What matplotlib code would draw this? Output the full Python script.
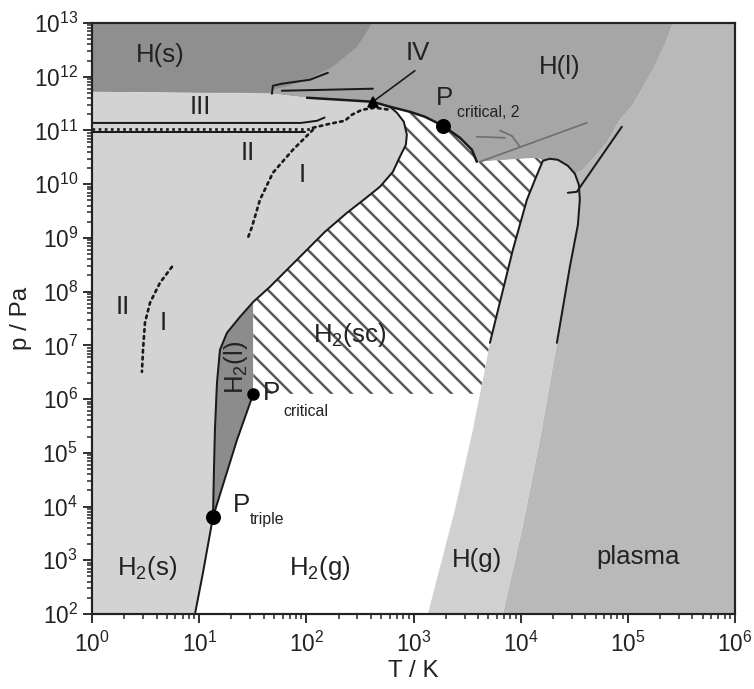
import numpy as np
import matplotlib
matplotlib.use('Agg')
import matplotlib.pyplot as plt
from matplotlib.patches import Polygon
from matplotlib.ticker import LogLocator, NullFormatter, FixedLocator
from matplotlib.collections import LineCollection

plt.rcParams['font.family'] = ['Liberation Sans', 'DejaVu Sans']
plt.rcParams['mathtext.fontset'] = 'custom'
plt.rcParams['mathtext.rm'] = 'Liberation Sans'
plt.rcParams['mathtext.it'] = 'Liberation Sans:italic'
plt.rcParams['mathtext.bf'] = 'Liberation Sans:bold'

# ---- axis decades ----
x_decades = [0, 1, 2, 3, 4, 5, 6]
y_decades = [2, 3, 4, 5, 6, 7, 8, 9, 10, 11, 12, 13]

# ---- phase boundaries (log10 T [K], log10 p [Pa]) ----
sub_logT = [0.961, 1.035, 1.129]
sub_logp = [2.0, 2.763, 3.806]

melt_logT = [1.129, 1.138, 1.147, 1.166, 1.194, 1.259, 1.381, 1.505, 1.660, 1.847, 1.987,
             2.174, 2.379, 2.547, 2.687, 2.808, 2.873, 2.929, 2.938, 2.910, 2.845, 2.780]
melt_logp = [3.806, 4.682, 5.426, 6.302, 6.916, 7.233, 7.531, 7.810, 8.089, 8.462, 8.741,
             9.114, 9.467, 9.728, 9.952, 10.231, 10.510, 10.734, 10.920, 11.162, 11.330, 11.441]

vap_logT = [1.129, 1.353, 1.505]
vap_logp = [3.806, 5.240, 6.097]

iv_logT = [2.006, 2.313, 2.621, 2.780, 2.966, 3.106, 3.274, 3.433, 3.545, 3.591]
iv_logp = [11.609, 11.572, 11.534, 11.441, 11.348, 11.255, 11.088, 10.864, 10.641, 10.417]

hs_logT = [0.0, 2.612, 2.593, 2.472, 2.248, 2.006, 1.800, 1.688, 1.679, 0.0]
hs_logp = [13.0, 13.0, 12.931, 12.559, 12.186, 11.944, 11.814, 11.758, 11.702, 11.721]

tongue_logT = [3.134, 3.386, 3.554, 3.713, 3.927, 4.058, 4.133, 4.207, 4.272, 4.347, 4.440,
               4.506, 4.543, 4.552, 4.534, 4.459, 4.338, 4.179, 4.011, 3.834]
tongue_logp = [2.0, 3.937, 5.426, 7.047, 8.778, 9.709, 10.082, 10.436, 10.473, 10.454, 10.343,
               10.194, 9.989, 9.709, 9.244, 8.462, 7.047, 5.240, 3.564, 2.0]

arc_logT = [4.580, 4.804, 4.925, 5.047, 5.233, 5.345, 5.420]
arc_logp = [10.268, 10.771, 11.199, 11.479, 12.130, 12.596, 13.0]

bracket_logT = [1.679, 1.688, 1.772, 2.034, 2.201]
bracket_logp = [11.683, 11.832, 11.870, 11.944, 12.074]
hline_logT = [1.772, 2.621]
hline_logp = [11.739, 11.777]

iii_top_logT = [0.0, 1.95, 2.10, 2.17]
iii_top_logp = [11.14, 11.14, 11.18, 11.24]
iii_bot_logT = [0.0, 1.987]
iii_bot_logp = [10.976, 10.976]
iii_dot_logT = [0.0, 2.06]
iii_dot_logp = [11.03, 11.03]

dotA_logT = [2.062, 2.220, 2.360, 2.425, 2.519, 2.640, 2.780]
dotA_logp = [11.050, 11.125, 11.181, 11.292, 11.385, 11.423, 11.385]
dotB_logT = [2.062, 1.875, 1.688, 1.567, 1.493, 1.455]
dotB_logp = [11.013, 10.641, 10.212, 9.709, 9.207, 9.002]
dotC_logT = [0.746, 0.634, 0.541, 0.494, 0.476, 0.466]
dotC_logp = [8.462, 8.164, 7.791, 7.419, 6.916, 6.507]

diag_logT = [4.440, 4.524, 4.944]
diag_logp = [9.840, 9.858, 11.069]
gray_logT = [3.619, 4.618]
gray_logp = [10.417, 11.143]

# special points
triple = (1.129, 3.806)
crit = (1.505, 6.097)
crit2 = (3.274, 11.088)
pt_iv = (2.621, 11.534)
iv_label = (3.013, 12.112)


def P(lt, lp):
    return np.column_stack([10 ** np.asarray(lt, float), 10 ** np.asarray(lp, float)])


W_PX, H_PX = 754, 689
AX_L, AX_R, AX_T, AX_B = 92, 735, 23, 614
fig = plt.figure(figsize=(W_PX / 120, H_PX / 120), dpi=120)
ax = fig.add_axes([AX_L / W_PX, 1 - AX_B / H_PX, (AX_R - AX_L) / W_PX, (AX_B - AX_T) / H_PX])
ax.set_xscale('log')
ax.set_yscale('log')
ax.set_xlim(1, 1e6)
ax.set_ylim(1e2, 1e13)

C_LIGHT = '#d3d3d3'
C_HS = '#8f8f8f'
C_HL = '#a6a6a6'
C_PL = '#b9b9b9'
C_HG = '#d0d0d0'
C_H2L = '#8c8c8c'

# plasma
pl = np.vstack([P([3.834], [2.0]), P(tongue_logT[19:10:-1], tongue_logp[19:10:-1]),
                P(arc_logT, arc_logp), P([6, 6], [13, 2])])
ax.add_patch(Polygon(pl, closed=True, fc=C_PL, ec='none', zorder=1))

# H(l)
hl = np.vstack([P([0, 0], [11.721, 13.0]), P(arc_logT[::-1], arc_logp[::-1]),
                P(tongue_logT[11:6:-1], tongue_logp[11:6:-1]), P([4.160], [10.492]),
                P(iv_logT[::-1], iv_logp[::-1]), P([1.679], [11.683])])
ax.add_patch(Polygon(hl, closed=True, fc=C_HL, ec='none', zorder=1.1))

# H(s)
ax.add_patch(Polygon(P(hs_logT, hs_logp), closed=True, fc=C_HS, ec='none', zorder=1.2))

# H(g)
ax.add_patch(Polygon(P(tongue_logT, tongue_logp), closed=True, fc=C_HG, ec='none', zorder=1.3))

# solid H2 (light)
light = np.vstack([P([0], [2.0]), P(sub_logT, sub_logp), P(melt_logT[1:], melt_logp[1:]),
                   P(iv_logT[2::-1], iv_logp[2::-1]), P([1.679, 0], [11.683, 11.721])])
ax.add_patch(Polygon(light, closed=True, fc=C_LIGHT, ec='none', zorder=1.4))

# H2(l)
h2l = np.vstack([P(melt_logT[:8], melt_logp[:8]), P(vap_logT[::-1], vap_logp[::-1])])
ax.add_patch(Polygon(h2l, closed=True, fc=C_H2L, ec='none', zorder=1.5))

# H2(sc) hatched (white with diagonal lines clipped to the region)
sc = np.vstack([P(melt_logT[7:], melt_logp[7:]), P(iv_logT[4:], iv_logp[4:]),
                P([4.160], [10.492]), P(tongue_logT[7:2:-1], tongue_logp[7:2:-1]),
                P([3.619, crit[0]], [crit[1], crit[1]])])
sc_patch = Polygon(sc, closed=True, fc='white', ec='none', zorder=1.5)
ax.add_patch(sc_patch)
aw, ah = AX_R - AX_L, AX_B - AX_T
segs = []
for c in np.arange(0, aw + ah + 20, 20.0):
    segs.append([((c - ah) / aw, 1.0), (c / aw, 0.0)])
hatch = LineCollection(segs, colors='#5a5a5a', linewidths=1.5, transform=ax.transAxes,
                       zorder=1.6)
ax.add_collection(hatch)
hatch.set_clip_path(sc_patch)

K = '#1a1a1a'
lw = 1.2
def line(lt, lp, **kw):
    d = P(lt, lp)
    kw.setdefault('color', K)
    kw.setdefault('lw', lw)
    ax.plot(d[:, 0], d[:, 1], zorder=3, solid_capstyle='round', **kw)

line(sub_logT + melt_logT[1:], sub_logp + melt_logp[1:])
line(vap_logT, vap_logp)
line(iv_logT, iv_logp, lw=1.5)
line(bracket_logT, bracket_logp)
line(hline_logT, hline_logp)
line(iii_top_logT, iii_top_logp)
line(iii_bot_logT, iii_bot_logp)
line(iii_dot_logT, iii_dot_logp, ls=(0, (1, 1.3)), lw=1.6)
for a, b in [(dotA_logT, dotA_logp), (dotB_logT, dotB_logp), (dotC_logT, dotC_logp)]:
    line(a, b, ls=(0, (1, 1.6)), lw=1.6, dash_capstyle='round')
line(tongue_logT[3:17], tongue_logp[3:17])
line(diag_logT, diag_logp)
line([pt_iv[0], iv_label[0]], [pt_iv[1], iv_label[1]], lw=1.0)
line(gray_logT, gray_logp, color='#6e6e6e', lw=1.0)
# small arrow marks
line([3.591, 3.853], [10.883, 10.864], color='#6e6e6e', lw=1.0)
line([3.806, 3.918, 3.993], [11.0, 10.90, 10.697], color='#6e6e6e', lw=1.0)

for (a, b), ms in [(triple, 8), (crit, 6.5), (crit2, 8)]:
    ax.plot(10 ** a, 10 ** b, 'o', color='black', ms=ms, zorder=4)
ax.plot(10 ** pt_iv[0], 10 ** pt_iv[1], '^', color='black', ms=5.5, zorder=4)

TC = '#222222'
FS = 15.5
def T(lt, lp, s, fs=FS, **kw):
    ax.text(10 ** lt, 10 ** lp, s, fontsize=fs, color=TC, zorder=5, **kw)

T(0.634, 12.41, 'H(s)', ha='center', va='center')
T(3.041, 12.447, 'IV', ha='center', va='center')
T(4.366, 12.186, 'H(l)', ha='center', va='center')
T(3.293, 11.609, 'P', ha='center', va='center')
T(3.405, 11.33, 'critical, 2', fs=9.5, ha='left', va='center')
T(1.007, 11.441, 'III', ha='center', va='center')
T(1.455, 10.585, 'II', ha='center', va='center')
T(1.959, 10.175, 'I', ha='center', va='center')
T(0.289, 7.717, 'II', ha='center', va='center')
T(0.662, 7.419, 'I', ha='center', va='center')
T(2.407, 7.196, 'H$_2$(sc)', ha='center', va='center')
T(1.343, 6.581, 'H$_2$(l)', ha='center', va='center', rotation=90)
T(1.679, 6.115, 'P', ha='center', va='center')
T(1.782, 5.762, 'critical', fs=9.5, ha='left', va='center')
T(1.399, 4.030, 'P', ha='center', va='center')
T(1.474, 3.750, 'triple', fs=9.5, ha='left', va='center')
T(0.513, 2.857, 'H$_2$(s)', ha='center', va='center')
T(2.127, 2.857, 'H$_2$(g)', ha='center', va='center')
T(3.591, 3.006, 'H(g)', ha='center', va='center')
T(5.093, 3.061, 'plasma', ha='center', va='center')

ax.set_xlabel('T / K', fontsize=14.5, color=TC, labelpad=2)
ax.set_ylabel('p / Pa', fontsize=14.5, color=TC, labelpad=1)

ax.xaxis.set_major_locator(FixedLocator([10.0 ** d for d in x_decades]))
ax.yaxis.set_major_locator(FixedLocator([10.0 ** d for d in y_decades]))
ax.xaxis.set_minor_locator(FixedLocator([m * 10.0 ** d for d in x_decades[:-1] for m in range(2, 10)]))
ax.yaxis.set_minor_locator(FixedLocator([m * 10.0 ** d for d in y_decades[:-1] for m in range(2, 10)]))
ax.xaxis.set_minor_formatter(NullFormatter())
ax.yaxis.set_minor_formatter(NullFormatter())
ax.tick_params(which='major', direction='out', length=5.5, width=1.1, labelsize=13.5,
               colors=TC)
ax.tick_params(axis='x', which='major', pad=5)
ax.tick_params(axis='y', which='major', pad=3)
ax.tick_params(which='minor', direction='out', length=3, width=0.9, colors=TC)
for s in ax.spines.values():
    s.set_linewidth(1.3)
    s.set_color('#222222')
    s.set_zorder(6)

fig.savefig('out.png', dpi=120)
